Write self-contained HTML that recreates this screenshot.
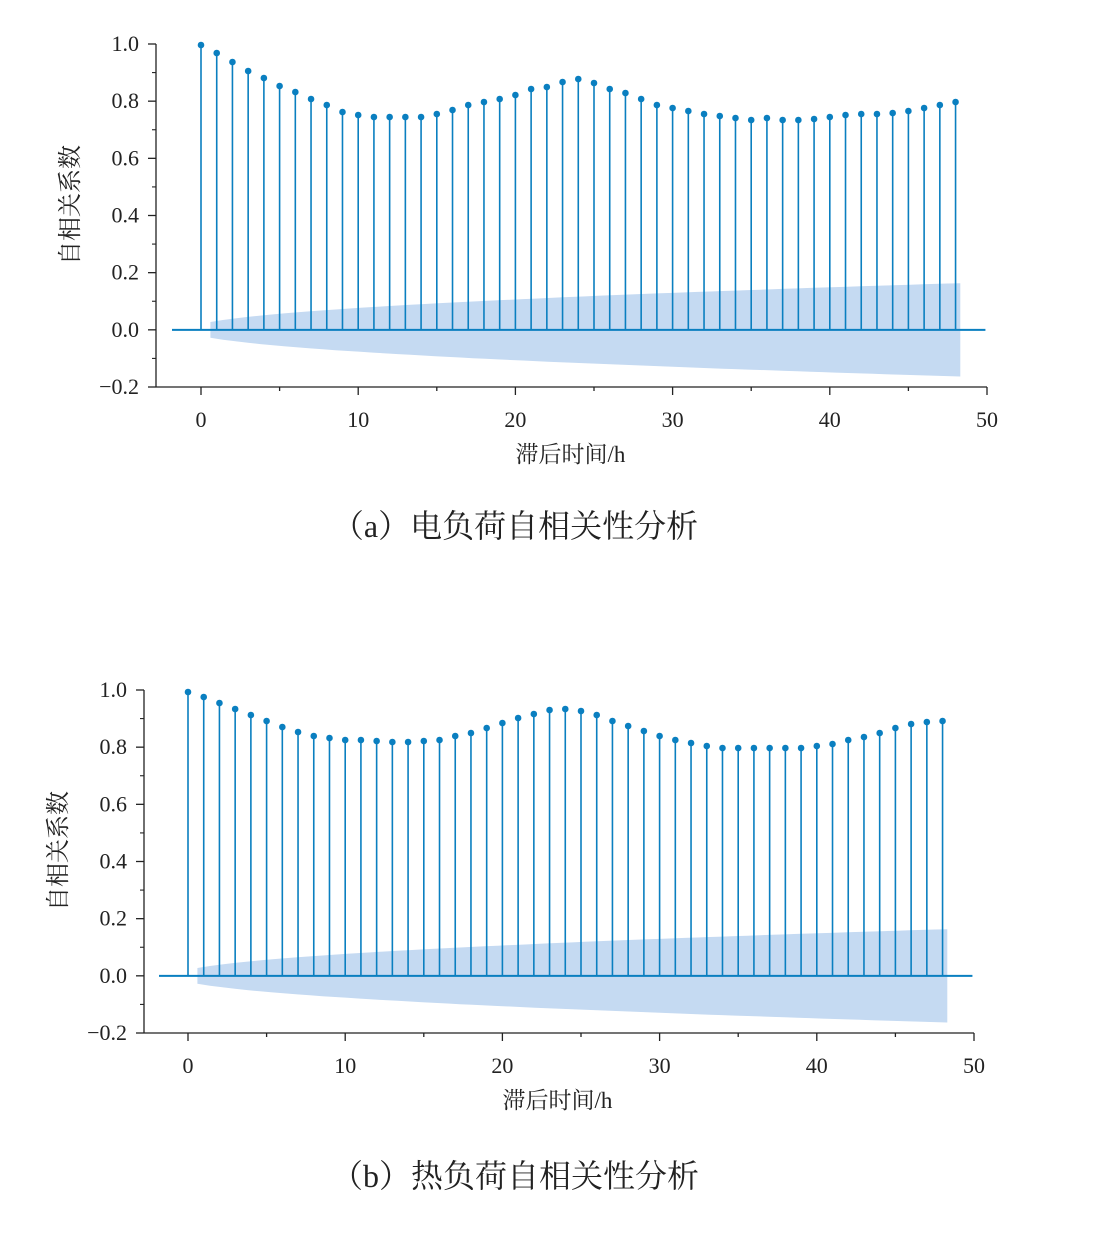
<!DOCTYPE html>
<html><head><meta charset="utf-8">
<style>
body{margin:0;background:#fff;width:1101px;height:1253px;overflow:hidden}
svg{position:absolute;left:0;top:0}
text{font-family:"Liberation Serif","Noto Serif CJK SC",serif;fill:#222}
</style></head>
<body>
<svg id="s" width="1101" height="1253" xmlns="http://www.w3.org/2000/svg"></svg>
<script>
const A=[45,53,62,71,78,86,92,99,105,112,115,117,117,117,117,114,110,105,102,99,95,89,87,82,79,83,89,93,99,105,108,111,114,116,118,120,118,120,120,119,117,115,114,114,113,111,108,105,102];
const B=[692,697,703,709,715,721,727,732,736,738,740,740,741,742,742,741,740,736,733,728,723,718,714,710,709,711,715,721,726,731,736,740,743,746,748,748,748,748,748,748,746,744,740,737,733,728,724,722,721];
let h='';
function chart(x0,axL,top,vals,cap,capY,ylx){
 const sx=15.72, py=343/1.2; const y=v=>top+(1-v)*py; const zero=y(0), bot=y(-0.2);
 const X=k=>x0+k*sx;
 let up=[],lo=[];
 for(let i=0;i<=60;i++){const k=0.6+(48.3-0.6)*i/60;const b=0.0206*Math.sqrt(1+1.28*k);up.push(X(k).toFixed(1)+','+y(b).toFixed(1));lo.push(X(k).toFixed(1)+','+y(-b).toFixed(1));}
 h+=`<polygon points="${up.join(' ')} ${lo.reverse().join(' ')}" fill="#c5daf2"/>`;
 h+=`<line x1="${x0-29}" y1="${zero}" x2="${X(49.9)}" y2="${zero}" stroke="#0a7fc0" stroke-width="2"/>`;
 vals.forEach((v,k)=>{h+=`<line x1="${X(k)}" y1="${zero}" x2="${X(k)}" y2="${v}" stroke="#0a7fc0" stroke-width="1.6"/><circle cx="${X(k)}" cy="${v}" r="3.3" fill="#0a7fc0"/>`;});
 h+=`<line x1="${axL}" y1="${top}" x2="${axL}" y2="${bot}" stroke="#222" stroke-width="1.3"/><line x1="${axL}" y1="${bot}" x2="${X(50)}" y2="${bot}" stroke="#222" stroke-width="1.3"/>`;
 for(let i=0;i<=6;i++){const v=1-i*0.2,yy=y(v);h+=`<line x1="${axL-8}" y1="${yy}" x2="${axL}" y2="${yy}" stroke="#222" stroke-width="1.3"/>`;
  h+=`<text x="${axL-17}" y="${yy+7}" font-size="22" text-anchor="end">${(v<-0.01?'\u22120.2':v.toFixed(1))}</text>`;
  if(i<6)h+=`<line x1="${axL-4}" y1="${yy+py*0.1}" x2="${axL}" y2="${yy+py*0.1}" stroke="#222" stroke-width="1.1"/>`;}
 for(let t=0;t<=50;t+=5){const xx=X(t);h+=`<line x1="${xx}" y1="${bot}" x2="${xx}" y2="${bot+(t%10?4:8)}" stroke="#222" stroke-width="1.3"/>`;
  if(t%10==0)h+=`<text x="${xx}" y="${bot+40}" font-size="22" text-anchor="middle">${t}</text>`;}
 h+=`<text x="${X(23.5)}" y="${bot+75}" font-size="23" text-anchor="middle">滞后时间/h</text>`;
 h+=`<text transform="translate(${ylx},${top+161}) rotate(-90)" font-size="24" text-anchor="middle">自相关系数</text>`;
 h+=`<text x="515" y="${capY}" font-size="32" text-anchor="middle">${cap}</text>`;
}
chart(201,156,44,A,'（a）电负荷自相关性分析',537,78);
chart(188,144,690,B,'（b）热负荷自相关性分析',1187,66);
document.getElementById('s').innerHTML=h;
</script>
</body></html>
